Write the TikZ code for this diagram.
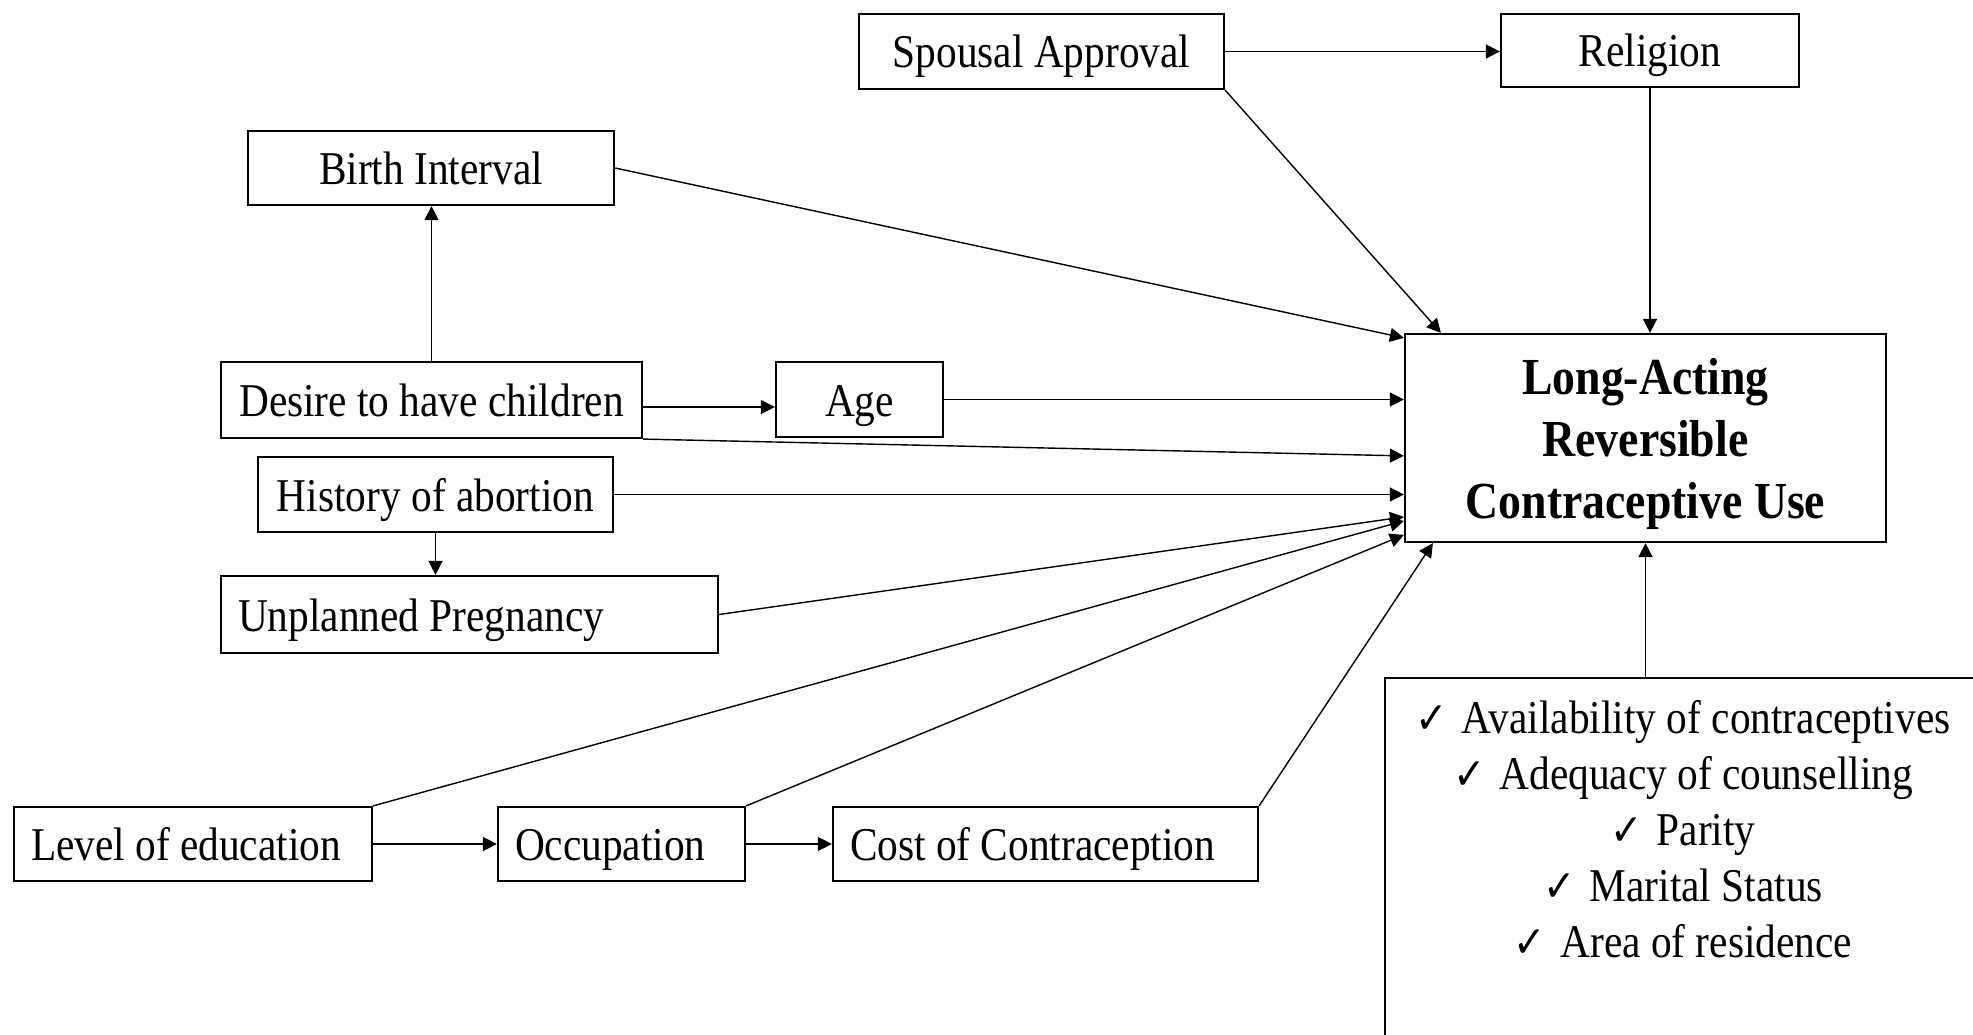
\documentclass[tikz,border=0pt]{standalone}
\usepackage{fontspec}
\setmainfont{Liberation Serif}[FakeStretch=0.88]
\newfontfamily\symfont{DejaVu Sans}[FakeStretch=0.88]
\usetikzlibrary{arrows.meta,calc}
\newcommand\chkmark{{\symfont\fontsize{44}{44}\selectfont ✓}\hspace{14pt}}
\tikzset{
  box/.style={draw, line width=2.2pt, rectangle, inner sep=0pt, text height=33pt, text depth=0pt, align=center},
  lbox/.style={box, align=flush left, inner xsep=17pt},
  conn/.style={line width=1.4pt, -{Triangle[length=14pt,width=14pt]}},
}
\begin{document}
\begin{tikzpicture}[x=1pt,y=-1pt,font=\fontsize{47}{56}\selectfont]
\path[use as bounding box, clip] (0,0) rectangle (1973,1035);
\fill[white] (0,0) rectangle (1973,1035);

\node[box, minimum width=365pt, minimum height=75pt] (spousal) at (1041.5,51.5) {Spousal Approval};
\node[box, minimum width=298pt, minimum height=73pt] (religion) at (1650,50.5) {Religion};
\node[box, minimum width=366pt, minimum height=74pt] (birth) at (431,168) {Birth Interval};
\node[box, minimum width=421pt, minimum height=76pt] (desire) at (431.5,400) {Desire to have children};
\node[box, minimum width=167pt, minimum height=75pt] (age) at (859.5,399.5) {Age};
\node[box, minimum width=355pt, minimum height=75pt] (history) at (435.5,494.5) {History of abortion};
\node[lbox, text width=463pt, minimum width=497pt, minimum height=77pt] (unplanned) at (469.5,614.5) {Unplanned Pregnancy};
\node[lbox, text width=324pt, minimum width=358pt, minimum height=74pt] (level) at (193,844) {Level of education};
\node[lbox, text width=213pt, minimum width=247pt, minimum height=74pt] (occupation) at (621.5,844) {Occupation};
\node[lbox, text width=391pt, minimum width=425pt, minimum height=74pt] (cost) at (1045.5,844) {Cost of Contraception};

\node[draw, line width=2.2pt, rectangle, inner sep=0pt, minimum width=481pt, minimum height=208pt, align=center,
      font=\fontsize{52}{62}\selectfont\bfseries] (larc) at (1645.5,438)
      {\rule{0pt}{49pt}Long-Acting\\Reversible\\Contraceptive Use};

\node[draw, line width=2.2pt, rectangle, inner sep=0pt, anchor=north west, minimum width=620pt, minimum height=500pt] (chkbox) at (1384,677) {};
\node[align=center, inner sep=0pt] (chklist) at (1683,829)
  {\chkmark Availability of contraceptives\\
   \chkmark Adequacy of counselling\\
   \chkmark Parity\\
   \chkmark Marital Status\\
   \chkmark Area of residence};

% connectors
\draw[conn] (spousal.east) -- (spousal.east -| religion.west);
\draw[conn] (spousal.south east) -- ([xshift=37pt]larc.north west);
\draw[conn] (religion.south) -- (religion.south |- larc.north);
\draw[conn] (birth.east) -- ([yshift=-5pt]larc.north west);
\draw[conn] (desire.north) -- (desire.north |- birth.south);
\coordinate (da) at ([yshift=-7pt]desire.east);
\draw[conn] (da) -- (da -| age.west);
\draw[conn] (age.east) -- (age.east -| larc.west);
\draw[conn] (desire.south east) -- ([yshift=-123pt]larc.north west);
\draw[conn] (history.east) -- (history.east -| larc.west);
\draw[conn] (history.south) -- (history.south |- unplanned.north);
\draw[conn] (unplanned.east) -- ([yshift=-184pt]larc.north west);
\draw[conn] (level.north east) -- ([yshift=-188pt]larc.north west);
\draw[conn] (occupation.north east) -- ([yshift=-202pt]larc.north west);
\draw[conn] (cost.north east) -- ([xshift=29pt]larc.south west);
\draw[conn] (level.east) -- (level.east -| occupation.west);
\draw[conn] (occupation.east) -- (occupation.east -| cost.west);
\draw[conn] (larc.south |- chkbox.north) -- (larc.south);
\end{tikzpicture}
\end{document}
